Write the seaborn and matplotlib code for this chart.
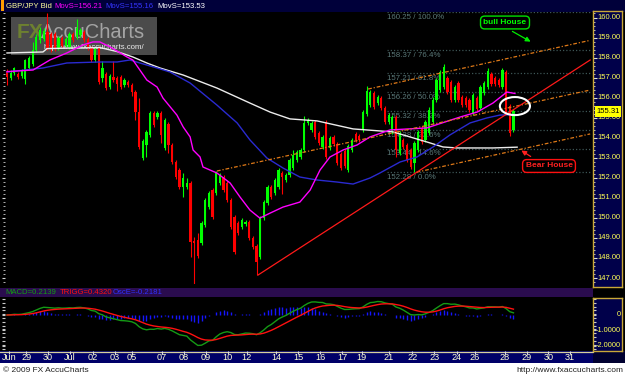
import numpy as np
import pandas as pd
import matplotlib
matplotlib.use("Agg")
import matplotlib.pyplot as plt
import matplotlib.transforms as mtrans
from matplotlib.patches import Rectangle, Ellipse
from matplotlib import font_manager
import seaborn as sns

# ---------------- data (GBP/JPY 4h bars) ----------------
bar_open = [157.30, 157.00, 157.25, 157.20, 157.10, 156.95, 157.50, 157.70, 158.40, 158.90,
            158.95, 159.30, 159.20, 159.20, 158.50, 159.00, 158.60, 158.55, 159.20, 159.05,
            159.15, 159.30, 158.95, 158.50, 157.90, 158.50, 157.00, 157.20, 156.55, 157.05,
            157.00, 157.05, 156.65, 156.80, 156.65, 156.30, 155.30, 153.00, 153.65, 154.15,
            155.25, 155.05, 155.25, 153.50, 154.70, 153.65, 152.80, 152.40, 151.55, 151.55,
            151.75, 148.85, 148.90, 148.75, 149.65, 150.55, 151.40, 151.25, 151.75, 152.05,
            151.75, 150.90, 150.05, 149.75, 149.55, 149.70, 149.80, 149.00, 148.60, 148.05,
            150.00, 150.75, 151.55, 151.25, 151.55, 152.25, 151.90, 152.15, 152.50, 152.90,
            153.05, 153.40, 154.75, 154.40, 154.80, 154.25, 153.55, 154.80, 153.50, 154.05,
            153.70, 153.20, 153.35, 152.40, 153.40, 154.20, 154.10, 154.40, 155.20, 155.65,
            156.25, 155.75, 156.00, 155.50, 154.80, 154.30, 155.05, 153.25, 153.90, 153.65,
            153.40, 152.75, 153.40, 154.50, 153.90, 154.25, 154.80, 155.90, 156.40, 156.55,
            157.00, 156.80, 155.90, 156.75, 156.05, 156.00, 155.90, 155.25, 156.00, 155.50,
            156.25, 156.55, 157.20, 157.00, 156.90, 156.55, 157.30, 155.60, 154.40]
bar_close = [157.05, 157.25, 157.50, 157.05, 157.35, 157.90, 158.00, 158.40, 159.05, 159.40,
             159.35, 158.50, 158.50, 158.45, 159.00, 158.60, 158.95, 159.20, 158.90, 159.50,
             159.40, 158.90, 158.50, 157.90, 158.45, 156.80, 157.50, 156.50, 157.10, 156.90,
             156.70, 156.55, 156.90, 156.65, 156.30, 155.30, 153.55, 153.85, 154.30, 155.25,
             154.65, 155.25, 154.15, 154.90, 153.65, 152.80, 152.05, 151.55, 152.00, 151.75,
             148.80, 148.75, 148.10, 149.75, 150.90, 151.25, 150.05, 152.30, 152.15, 151.40,
             150.90, 149.55, 148.30, 149.25, 149.90, 149.80, 149.00, 148.55, 147.80, 150.00,
             150.80, 151.55, 151.05, 151.90, 152.40, 152.05, 152.15, 152.90, 153.15, 153.30,
             153.40, 154.75, 154.90, 154.75, 154.05, 153.75, 154.05, 153.05, 154.00, 153.70,
             152.75, 152.50, 152.60, 153.60, 153.90, 153.90, 153.90, 155.30, 156.35, 156.30,
             155.55, 156.05, 155.50, 154.80, 155.15, 155.05, 153.40, 154.25, 153.55, 152.90,
             152.55, 153.75, 154.30, 153.80, 154.80, 155.40, 155.90, 156.90, 157.30, 157.55,
             156.30, 155.90, 156.55, 155.90, 155.65, 155.65, 155.40, 156.15, 155.45, 156.55,
             156.75, 157.35, 156.70, 156.70, 156.65, 157.40, 155.30, 154.25, 155.31]
bar_high = [157.45, 157.40, 157.55, 157.30, 157.45, 157.95, 158.10, 158.80, 159.20, 159.55,
            159.50, 160.20, 159.30, 159.30, 159.10, 159.10, 159.05, 159.30, 159.30, 159.95,
            159.50, 159.40, 159.05, 158.60, 158.55, 158.60, 157.85, 157.30, 157.20, 157.85,
            157.10, 157.15, 157.00, 156.90, 156.75, 156.40, 156.00, 153.95, 154.40, 155.35,
            155.35, 155.35, 155.35, 155.00, 154.80, 153.75, 152.90, 152.50, 152.25, 152.00,
            151.85, 149.05, 149.25, 149.85, 151.00, 151.35, 151.50, 152.35, 152.25, 152.15,
            151.85, 151.00, 150.15, 149.85, 150.00, 149.90, 149.90, 149.10, 148.70, 150.10,
            150.90, 151.65, 151.65, 152.00, 152.50, 152.35, 152.25, 153.00, 153.40, 153.40,
            153.50, 155.10, 155.00, 154.85, 154.90, 154.35, 154.15, 154.90, 154.10, 154.15,
            153.80, 153.30, 153.45, 153.70, 154.00, 154.30, 154.20, 155.40, 156.60, 156.40,
            156.35, 156.15, 156.10, 155.60, 155.25, 155.15, 155.15, 154.35, 154.00, 153.75,
            153.50, 153.85, 154.40, 154.60, 154.90, 155.55, 156.05, 157.00, 157.40, 157.70,
            157.10, 156.90, 156.65, 156.85, 156.15, 156.10, 156.00, 156.25, 156.10, 156.65,
            156.85, 157.50, 157.30, 157.10, 157.00, 157.50, 157.40, 155.70, 155.45]
bar_low = [156.65, 156.90, 157.15, 156.95, 157.00, 156.70, 157.40, 157.60, 158.30, 158.75,
           158.85, 158.40, 158.30, 158.35, 158.40, 158.50, 158.50, 158.45, 158.80, 158.95,
           159.05, 158.80, 158.40, 157.80, 157.80, 156.70, 156.80, 156.40, 156.45, 156.80,
           156.35, 156.45, 156.55, 156.55, 156.10, 154.90, 153.45, 152.90, 153.05, 154.05,
           154.55, 154.95, 153.75, 153.40, 153.25, 152.70, 151.95, 151.45, 151.05, 151.45,
           148.05, 146.70, 148.00, 148.65, 149.55, 150.45, 149.95, 151.15, 151.65, 151.30,
           150.80, 149.45, 148.20, 149.15, 149.45, 149.60, 148.90, 148.45, 147.15, 147.95,
           149.90, 150.65, 150.95, 151.15, 151.45, 151.20, 151.80, 152.05, 152.40, 152.80,
           152.95, 153.30, 154.65, 154.30, 153.95, 153.65, 153.45, 152.95, 153.40, 153.60,
           152.65, 152.40, 152.50, 152.30, 153.30, 153.80, 153.80, 154.30, 155.10, 155.55,
           155.45, 155.65, 155.40, 154.70, 154.70, 154.20, 153.05, 153.15, 153.45, 152.80,
           152.45, 152.28, 153.30, 153.70, 153.80, 154.15, 154.70, 155.80, 156.30, 156.45,
           156.20, 155.80, 155.80, 155.80, 155.55, 155.55, 155.30, 155.15, 155.35, 155.40,
           156.15, 156.45, 156.60, 156.60, 156.55, 156.45, 155.20, 154.10, 154.30]

# moving averages (bar index, value)
ma_fast_idx = [0, 7.1, 11.7, 16.3, 20.7, 23.4, 25.3, 28.1, 32.7, 34.3, 36.2, 38.1, 40.9, 42.5,
               46.3, 48.0, 49.9, 50.7, 52.6, 53.4, 57.2, 60.8, 63.5, 66.2, 68.9, 71.7, 75.2,
               79.8, 82.6, 85.3, 88.0, 91.6, 95.4, 98.9, 104.4, 114.4, 123.4, 128.1, 132.4,
               136.2, 138.4]
ma_fast_val = [157.30, 157.38, 157.88, 158.23, 158.63, 158.78, 158.78, 158.53, 158.03, 157.88,
               157.38, 156.88, 156.53, 155.98, 155.13, 154.54, 154.04, 153.39, 153.04, 152.54,
               152.24, 151.74, 151.04, 150.39, 149.99, 150.24, 150.54, 150.79, 151.39, 152.39,
               153.04, 153.39, 153.64, 154.04, 154.39, 154.49, 155.03, 155.28, 155.73, 156.28,
               156.21]
ma_mid_idx = [0, 9.8, 16.3, 25.3, 30.0, 33.5, 36.2, 40.9, 44.4, 49.9, 57.2, 62.7, 66.2, 70.8,
              75.2, 79.8, 84.5, 89.9, 94.3, 98.9, 101.6, 107.1, 111.7, 116.1, 120.7, 126.2,
              130.8, 134.3, 138.4]
ma_mid_val = [157.28, 157.48, 157.73, 157.78, 157.78, 157.88, 157.73, 157.48, 157.28, 156.73,
              155.63, 154.74, 153.89, 152.99, 152.49, 152.04, 151.89, 151.79, 151.69, 151.99,
              152.24, 152.79, 153.04, 153.54, 154.14, 154.74, 154.99, 155.13, 155.16]
ma_slow_idx = [0, 9.8, 10.9, 25.3, 30.0, 34.3, 38.1, 41.7, 48.0, 57.2, 66.2, 71.7, 77.1, 84.5,
               94.3, 105.2, 109.8, 114.4, 118.8, 122.6, 132.4, 139.0]
ma_slow_val = [158.23, 158.28, 158.45, 158.50, 158.30, 158.03, 157.73, 157.48, 157.13, 156.48,
               155.73, 155.28, 154.94, 154.84, 154.44, 154.29, 154.04, 153.79, 153.54, 153.49,
               153.49, 153.53]

fib_levels = [160.25, 158.37, 157.21, 156.26, 155.32, 154.38, 153.44, 152.28]
fib_pcts = ["100.0%", "76.4%", "61.8%", "50.0%", "38.2%", "23.6%", "14.6%", "0.0%"]

# drawn trend / channel lines: (bar start, price start, bar end, price end)
channel_lines = [(57.2, 152.34, 158.9, 156.38),
                 (98.4, 156.43, 158.9, 158.86),
                 (111.6, 152.28, 158.9, 154.19)]
trend_line = (68.4, 147.15, 158.9, 157.88)
circle_center = (138.4, 155.58)

price_ticks = [147, 148, 149, 150, 151, 152, 153, 154, 155, 156, 157, 158, 159, 160]
macd_ticks = [0, -1, -2]
macd_tick_labels = ["0", "-1.0000", "-2.0000"]
date_labels = ["Jun", "29", "30", "Jul", "02", "03", "05", "07", "08", "09", "10", "12", "14",
               "15", "16", "17", "19", "21", "22", "23", "24", "26", "28", "29", "30", "31"]
date_pos = [0.5, 5.2, 11.2, 17.2, 23.3, 29.3, 34.1, 42.2, 48.1, 54.1, 60.2, 65.3, 73.4,
            79.4, 85.4, 91.3, 96.6, 104.1, 110.4, 116.4, 122.5, 127.4, 135.6, 141.6, 147.5, 153.4]
header_ma = ["MovS=156.21", "MovS=155.16", "MovS=153.53"]
header_macd = ["MACD=0.2139", "TRIGG=0.4320", "OscE=-0.2181"]

# ---------------- fonts ----------------
names = {f.name for f in font_manager.fontManager.ttflist}
FONT = "Liberation Sans" if "Liberation Sans" in names else "DejaVu Sans"
plt.rcParams["font.family"] = [FONT, "DejaVu Sans"]

# ---------------- geometry helpers ----------------
W, H = 625.0, 378.0
PX0, PXS = 7.0, 3.67       # pixel of first bar, pixels per bar
PY0, PYS = 17.5, 20.04     # pixel of 160.00, pixels per yen
MY0, MYS = 315.0, 15.25    # pixel of MACD 0, pixels per unit


def frect(x0, y0, x1, y1):
    return [x0 / W, 1 - y1 / H, (x1 - x0) / W, (y1 - y0) / H]


def bx(px):
    return (px - PX0) / PXS


def py(y):
    return 160 - (y - PY0) / PYS


def my(y):
    return -(y - MY0) / MYS


fig = plt.figure(figsize=(6.25, 3.78), dpi=100, facecolor="black")
pix = mtrans.Affine2D().scale(1 / W, -1 / H).translate(0, 1) + fig.transFigure

# background strips
bg = fig.add_axes([0, 0, 1, 1], zorder=-5)
bg.set_xlim(0, W)
bg.set_ylim(H, 0)
bg.axis("off")
bg.add_patch(Rectangle((0, 0), W, 11.5, fc="#00003a", ec="none"))
bg.add_patch(Rectangle((0.5, 0), 3, 10.5, fc="#ff9c00", ec="none"))
bg.add_patch(Rectangle((0, 287.5), 593, 9.5, fc="#2a0c4e", ec="none"))
bg.add_patch(Rectangle((0, 351), 593, 12, fc="#000068", ec="none"))
bg.add_patch(Rectangle((593, 351), 32, 12, fc="#000030", ec="none"))
bg.add_patch(Rectangle((0, 363), W, 15, fc="white", ec="none"))
bg.plot([0, 593], [351.6, 351.6], color="#d6cf9c", lw=0.9)

bg.text(6, 6, "GBP/JPY Bid", color="#ffff9a", fontsize=5.6, va="center")
for txt, x0, col in zip(header_ma, [54, 105, 157], ["#ff00ff", "#3535ff", "#ffffff"]):
    bg.text(x0, 6, txt, color=col, fontsize=5.6, va="center")
for txt, x0, col in zip(header_macd, [5, 60, 113], ["#12a012", "#ff1010", "#3030ff"]):
    bg.text(x0, 292.3, txt, color=col, fontsize=5.6, va="center")
bg.text(3, 371, "\u00a9 2009 FX AccuCharts", color="#202020", fontsize=6.0, va="center")
bg.text(623, 371, "http://www.fxaccucharts.com", color="#202020", fontsize=6.0,
        va="center", ha="right")

# ---------------- main price panel ----------------
n = len(bar_close)
xi = np.arange(n)
O = np.array(bar_open)
C = np.array(bar_close)
Hh = np.array(bar_high)
Ll = np.array(bar_low)

ax = fig.add_axes(frect(5, 12, 593, 284))
ax.set_facecolor("black")
ax.set_xlim(bx(5), bx(593))
ax.set_ylim(py(284), py(12))
for s in ax.spines.values():
    s.set_visible(False)
ax.set_xticks([])
ax.set_yticks(price_ticks)
ax.set_yticks(np.arange(146.8, 160.3, 0.2), minor=True)
ax.tick_params(axis="y", which="major", direction="out", length=2.5, color="#d8d8d8",
               width=0.8, labelleft=False)
ax.tick_params(axis="y", which="minor", direction="out", length=1.5, color="#b0b0b0",
               width=0.7)

# watermark
ax.add_patch(Rectangle((11, 17), 146, 38, fc="#4b4b4b", ec="none", transform=pix, zorder=0.5))
ax.text(17, 32, "FX", transform=pix, fontsize=15, color="#6d8030", fontweight="bold",
        va="center", zorder=0.6)
ax.text(41, 32, "AccuCharts", transform=pix, fontsize=14.5, color="#a4a4a4",
        va="center", zorder=0.6)
ax.text(43, 47.5, "http://www.fxaccucharts.com/", transform=pix, fontsize=5.6,
        color="#eeeeee", va="center", zorder=0.6)

# fibonacci levels
ax.hlines(fib_levels, bx(387), bx(590), colors="#3d5555", linestyles=(0, (1, 1.6)),
          lw=0.9, zorder=1)
lab_tr = mtrans.offset_copy(ax.transData, fig=fig, x=0, y=-1.5, units="dots")
for lvl, pct in zip(fib_levels, fib_pcts):
    ax.text(bx(387), lvl, f"{lvl:.2f} / {pct}", transform=lab_tr, va="top", ha="left",
            color="#5a7878", fontsize=5.7, zorder=1)

# candles
cols = np.where(C >= O, "#00ff00", "#ff0000")
ax.vlines(xi, Ll, Hh, colors=cols, lw=0.8, zorder=3)
body = np.maximum(np.abs(C - O), 0.035)
ax.bar(xi, body, bottom=np.minimum(O, C), width=0.62, color=cols, edgecolor="none", zorder=4)

# moving averages
sns.lineplot(x=ma_slow_idx, y=ma_slow_val, ax=ax, color="#ececec", lw=1.0, zorder=5,
             legend=False)
sns.lineplot(x=ma_mid_idx, y=ma_mid_val, ax=ax, color="#2a2ad0", lw=1.0, zorder=5,
             legend=False)
sns.lineplot(x=ma_fast_idx, y=ma_fast_val, ax=ax, color="#ff00ff", lw=1.0, zorder=5,
             legend=False)

# channel & trend lines
for (i0, p0, i1, p1) in channel_lines:
    ax.plot([i0, i1], [p0, p1], color="#e07a18", lw=0.9, ls=(0, (3, 1.5, 1, 1.5)), zorder=6)
ax.plot([trend_line[0], trend_line[2]], [trend_line[1], trend_line[3]], color="#ff1a1a",
        lw=0.9, zorder=6)

ax.add_patch(Ellipse(circle_center, 8.2, 0.9, fill=False, ec="white", lw=1.5, zorder=7))

# annotations
ax.annotate("", xy=(bx(533), py(43)), xytext=(bx(510), py(30)),
            arrowprops=dict(arrowstyle="-|>", color="#00ee00", lw=0.9, mutation_scale=7),
            zorder=8)
ax.text(bx(505), py(22.5), "bull House", ha="center", va="center", color="#00ff00",
        fontsize=6.0, fontweight="bold", zorder=9,
        bbox=dict(boxstyle="round,pad=0.35,rounding_size=0.5", fc="black", ec="#00e000", lw=1))
ax.annotate("", xy=(bx(519), py(149)), xytext=(bx(533), py(158)),
            arrowprops=dict(arrowstyle="-|>", color="#ff2020", lw=0.9, mutation_scale=7),
            zorder=8)
ax.text(bx(549), py(166), "Bear House", ha="center", va="center", color="#ff2020",
        fontsize=6.0, fontweight="bold", zorder=9,
        bbox=dict(boxstyle="round,pad=0.35,rounding_size=0.5", fc="black", ec="#ff1010", lw=1))

# right price scale
axr = fig.add_axes(frect(593, 11, 622, 287))
axr.set_facecolor("#00004a")
axr.set_xlim(0, 1)
axr.set_ylim(py(287), py(11))
for s in axr.spines.values():
    s.set_color("#c9a838")
    s.set_linewidth(1.0)
axr.set_xticks([])
axr.set_yticks(price_ticks)
axr.set_yticks(np.arange(146.8, 160.3, 0.2), minor=True)
axr.tick_params(axis="y", which="major", direction="in", length=3, color="#dddddd",
                width=0.8, labelleft=False)
axr.tick_params(axis="y", which="minor", direction="in", length=1.5, color="#bbbbbb",
                width=0.7)
trr = mtrans.blended_transform_factory(axr.transAxes, axr.transData)
for t in price_ticks:
    axr.text(0.96, t, f"{t:.2f}", transform=trr, ha="right", va="center",
             color="#ffff55", fontsize=5.5, zorder=3)
# current-price marker drawn over the 155.00 label, as on the chart
axr.text(0.52, C[-1], f"{C[-1]:.2f}", transform=trr, ha="center", va="center",
         color="black", fontsize=5.5, zorder=5,
         bbox=dict(boxstyle="square,pad=0.2", fc="#ffff00", ec="none"))

# ---------------- MACD panel ----------------
close_s = pd.Series(C)
macd = close_s.ewm(span=12, adjust=False).mean() - close_s.ewm(span=26, adjust=False).mean()
trigg = macd.ewm(span=9, adjust=False).mean()
osc = macd - trigg

ax2 = fig.add_axes(frect(5, 297, 593, 350))
ax2.set_facecolor("black")
ax2.set_xlim(bx(5), bx(593))
ax2.set_ylim(my(350), my(297))
for s in ax2.spines.values():
    s.set_visible(False)
ax2.set_xticks([])
ax2.set_yticks(macd_ticks)
ax2.set_yticks(np.arange(-2.2, 1.2, 0.25), minor=True)
ax2.tick_params(axis="y", which="both", direction="out", length=2, color="#cccccc",
                width=0.8, labelleft=False)
ax2.vlines(xi, 0, osc.values, colors="#1515ff", lw=1.0, zorder=2)
sns.lineplot(x=xi, y=macd.values, ax=ax2, color="#159a15", lw=1.0, zorder=3, legend=False)
sns.lineplot(x=xi, y=trigg.values, ax=ax2, color="#ff1010", lw=1.0, zorder=4, legend=False)

axr2 = fig.add_axes(frect(593, 298, 622, 351))
axr2.set_facecolor("#00004a")
axr2.set_xlim(0, 1)
axr2.set_ylim(my(351), my(298))
for s in axr2.spines.values():
    s.set_color("#c9a838")
    s.set_linewidth(1.0)
axr2.set_xticks([])
axr2.set_yticks(macd_ticks)
axr2.set_yticks(np.arange(-2.2, 1.2, 0.25), minor=True)
axr2.tick_params(axis="y", which="both", direction="in", length=2, color="#cccccc",
                 width=0.8, labelleft=False)
tr2 = mtrans.blended_transform_factory(axr2.transAxes, axr2.transData)
for t, lab in zip(macd_ticks, macd_tick_labels):
    axr2.text(0.97, t, lab, transform=tr2, ha="right", va="center", color="#ffff55",
              fontsize=5.3)

# ---------------- date bar ----------------
axd = fig.add_axes(frect(0, 351, 593, 363))
axd.patch.set_alpha(0)
axd.set_xlim(bx(0), bx(593))
axd.set_ylim(0, 1)
for s in axd.spines.values():
    s.set_visible(False)
axd.set_yticks([])
axd.set_xticks(date_pos)
axd.tick_params(axis="x", top=True, bottom=False, direction="in", length=1.8,
                color="#dddddd", labelbottom=False)
trd = mtrans.blended_transform_factory(axd.transData, axd.transAxes)
for p, lab in zip(date_pos, date_labels):
    axd.text(p, 0.42, lab, transform=trd, ha="center", va="center", color="#ffffd2",
             fontsize=6.6)

fig.savefig("out.png", dpi=100, facecolor="black")
